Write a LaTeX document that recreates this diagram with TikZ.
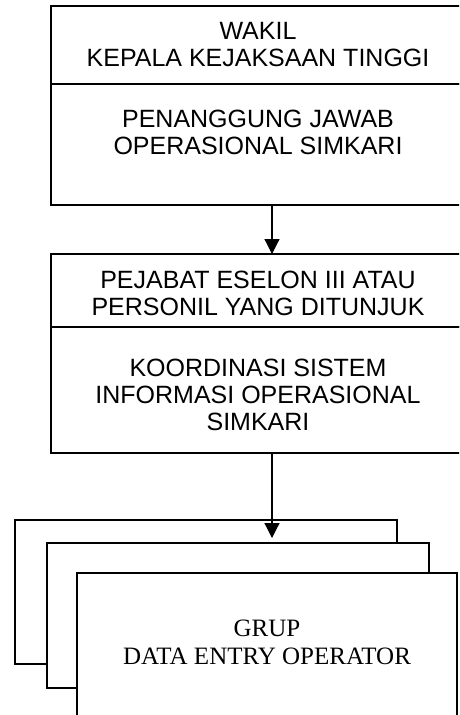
\documentclass[tikz,border=0pt]{standalone}
\usepackage{fontspec}
\setmainfont{Liberation Sans}
\newfontfamily\timesf{Liberation Serif}
\usetikzlibrary{arrows.meta}
\begin{document}
\begin{tikzpicture}[x=1pt,y=-1pt,
  box/.style={draw,line width=1.2pt,fill=white,inner sep=0pt,outer sep=0pt,anchor=north west},
  lbl/.style={font=\fontsize{25}{27}\selectfont,align=center,inner sep=0pt},
  arr/.style={line width=1.2pt,-{Triangle[length=15pt,width=15pt]}}]
\clip (0,0) rectangle (459,715);
\fill[white] (0,0) rectangle (459,715);
% top block
\node[box,minimum width=414pt,minimum height=78pt] (t1) at (51,6) {};
\node[box,minimum width=414pt,minimum height=121pt] (t2) at (51,84) {};
\node[lbl] (t1x) at (258,45) {WAKIL\\KEPALA KEJAKSAAN TINGGI};
\node[lbl] (t2x) at (258,132.5) {PENANGGUNG JAWAB\\OPERASIONAL SIMKARI};
% middle block
\node[box,minimum width=414pt,minimum height=73pt] (b1) at (51,254) {};
\node[box,minimum width=414pt,minimum height=126pt] (b2) at (51,327) {};
\node[lbl] (b1x) at (258,293.5) {PEJABAT ESELON III ATAU\\PERSONIL YANG DITUNJUK};
\node[lbl] (b2x) at (258,395) {KOORDINASI SISTEM\\INFORMASI OPERASIONAL\\SIMKARI};
% stacked group boxes
\node[box,minimum width=382pt,minimum height=144pt] (g1) at (15,520) {};
\node[box,minimum width=382pt,minimum height=145pt] (g2) at (47,543) {};
\node[box,minimum width=380pt,minimum height=170pt] (g3) at (77,573) {};
\node[lbl,font=\timesf\fontsize{25}{28}\selectfont] (g3x) at (267,642.5) {GRUP\\DATA ENTRY OPERATOR};
% connectors
\coordinate (ax) at (272,0);
\draw[arr] (t2.south -| ax) -- (b1.north -| ax);
\draw[arr] (b2.south -| ax) -- ([yshift=5pt]g2.north -| ax);
\end{tikzpicture}
\end{document}
